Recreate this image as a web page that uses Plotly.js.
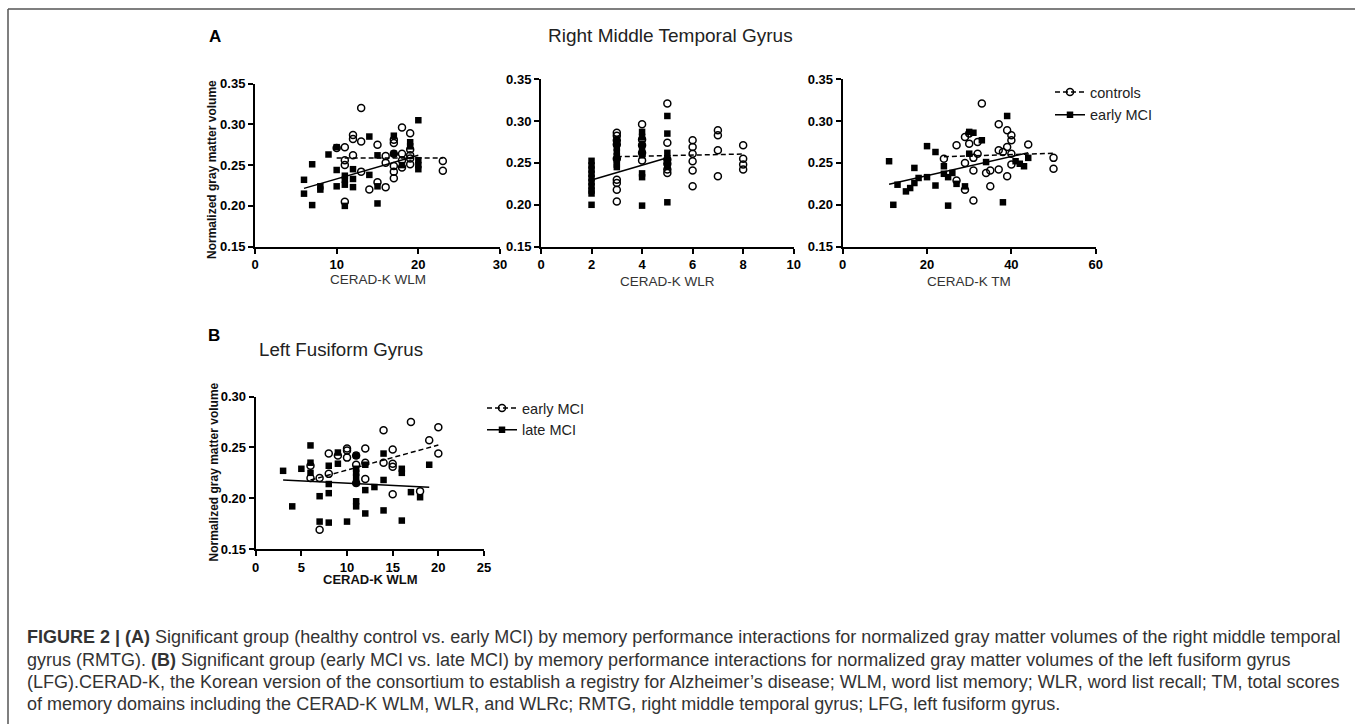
<!DOCTYPE html>
<html>
<head>
<meta charset="utf-8">
<script src="https://cdn.plot.ly/plotly-3.0.1.min.js"></script>
<style>
html,body{margin:0;padding:0;background:#fff;}
#chart{width:1355px;height:724px;}
</style>
</head>
<body>
<div id="chart"></div>
<script>
// ---------------- DATA ----------------
// Panel A1: CERAD-K WLM (controls vs early MCI)
const a1CtrlX = [13,12,12,13,11,12,11,11,11,13,14,15,15,16,16,16,17,17,17,17,17,17,18,18,18,18,19,19,19,19,19,23,23,10];
const a1CtrlY = [0.320,0.287,0.282,0.279,0.272,0.262,0.256,0.250,0.205,0.242,0.220,0.275,0.229,0.261,0.253,0.223,0.281,0.277,0.264,0.249,0.242,0.234,0.296,0.264,0.256,0.247,0.289,0.269,0.262,0.251,0.258,0.255,0.243,0.271];
const a1MciX = [6,6,7,7,8,8,9,10,10,10,11,11,11,11,12,12,12,14,14,15,15,15,17,17,18,19,19,20,20,20,20];
const a1MciY = [0.232,0.215,0.251,0.201,0.224,0.220,0.263,0.272,0.244,0.224,0.237,0.232,0.226,0.200,0.245,0.233,0.223,0.285,0.238,0.262,0.224,0.203,0.286,0.264,0.250,0.278,0.273,0.305,0.256,0.250,0.245];
const a1CtrlFitX = [10,23];
const a1CtrlFitY = [0.2587,0.2587];
const a1MciFitX = [6,20];
const a1MciFitY = [0.2215,0.2620];

// Panel A2: CERAD-K WLR
const a2CtrlX = [3,3,3,3,3,3,3,3,3,4,4,4,4,4,5,5,5,5,5,5,6,6,6,6,6,6,7,7,7,7,8,8,8,8];
const a2CtrlY = [0.286,0.2825,0.277,0.272,0.255,0.230,0.226,0.218,0.204,0.296,0.278,0.271,0.262,0.253,0.321,0.274,0.254,0.249,0.242,0.238,0.277,0.269,0.261,0.252,0.241,0.222,0.289,0.283,0.265,0.234,0.271,0.255,0.248,0.242];
const a2MciX = [2,2,2,2,2,2,2,2,2,2,3,3,3,3,3,3,3,3,4,4,4,4,4,4,4,4,4,5,5,5,5,5,5,5,5];
const a2MciY = [0.2525,0.247,0.242,0.237,0.232,0.227,0.222,0.217,0.2135,0.200,0.278,0.273,0.268,0.263,0.258,0.253,0.248,0.245,0.287,0.281,0.273,0.267,0.261,0.259,0.2375,0.233,0.199,0.306,0.285,0.262,0.2555,0.2515,0.2455,0.248,0.203];
const a2CtrlFitX = [3,8];
const a2CtrlFitY = [0.2574,0.2606];
const a2MciFitX = [2,5];
const a2MciFitY = [0.2296,0.2562];

// Panel A3: CERAD-K TM
const a3CtrlX = [33,24,27,27,29,29,29,30,30,31,31,31,32,32,34,35,35,37,37,37,38,39,39,39,40,40,40,40,44,50,50];
const a3CtrlY = [0.321,0.255,0.271,0.229,0.281,0.250,0.218,0.273,0.285,0.256,0.241,0.205,0.275,0.261,0.238,0.241,0.222,0.296,0.265,0.242,0.263,0.289,0.269,0.234,0.283,0.277,0.261,0.248,0.272,0.256,0.243];
const a3MciX = [11,12,13,15,16,17,17,18,20,20,22,22,24,24,25,25,26,27,29,30,30,31,33,34,38,39,41,42,43,44];
const a3MciY = [0.252,0.200,0.224,0.216,0.220,0.226,0.244,0.232,0.270,0.233,0.263,0.223,0.246,0.237,0.233,0.199,0.238,0.225,0.222,0.287,0.261,0.286,0.277,0.251,0.203,0.306,0.252,0.249,0.246,0.256];
const a3CtrlFitX = [24,50];
const a3CtrlFitY = [0.2574,0.2614];
const a3MciFitX = [11,44];
const a3MciFitY = [0.2244,0.2622];

// Panel B: CERAD-K WLM (early MCI vs late MCI)
const bEarlyX = [6,6,7,7,8,8,9,10,10,10,11,11,11,12,12,12,14,14,15,15,15,15,17,18,19,20,20];
const bEarlyY = [0.232,0.220,0.220,0.169,0.244,0.224,0.242,0.249,0.247,0.240,0.233,0.242,0.215,0.249,0.235,0.219,0.267,0.235,0.248,0.234,0.231,0.204,0.275,0.207,0.257,0.270,0.244];
const bLateX = [3,4,5,6,6,6,7,7,8,8,8,8,9,9,10,11,11,11,11,11,11,11,12,12,12,13,14,14,14,16,16,16,17,18,19];
const bLateY = [0.227,0.192,0.229,0.252,0.235,0.225,0.202,0.177,0.232,0.214,0.205,0.176,0.245,0.234,0.177,0.242,0.229,0.225,0.221,0.215,0.197,0.192,0.233,0.208,0.185,0.211,0.244,0.218,0.188,0.229,0.225,0.178,0.206,0.201,0.233];
const bEarlyFitX = [6,20];
const bEarlyFitY = [0.2179,0.2524];
const bLateFitX = [3,19];
const bLateFitY = [0.2179,0.2107];

// Tick labels
const yTicksA = [0.15,0.20,0.25,0.30,0.35];
const yTickTextA = ['0.15','0.20','0.25','0.30','0.35'];
const yTicksB = [0.15,0.20,0.25,0.30];
const yTickTextB = ['0.15','0.20','0.25','0.30'];
const xTicksA1 = [0,10,20,30];
const xTicksA2 = [0,2,4,6,8,10];
const xTicksA3 = [0,20,40,60];
const xTicksB = [0,5,10,15,20,25];

// Text
const legendA = ['controls','early MCI'];
const legendB = ['early MCI','late MCI'];
const captionLines = [
  '<b>FIGURE 2 | (A)</b> Significant group (healthy control vs. early MCI) by memory performance interactions for normalized gray matter volumes of the right middle temporal',
  'gyrus (RMTG). <b>(B)</b> Significant group (early MCI vs. late MCI) by memory performance interactions for normalized gray matter volumes of the left fusiform gyrus',
  '(LFG).CERAD-K, the Korean version of the consortium to establish a registry for Alzheimer\u2019s disease; WLM, word list memory; WLR, word list recall; TM, total scores',
  'of memory domains including the CERAD-K WLM, WLR, and WLRc; RMTG, right middle temporal gyrus; LFG, left fusiform gyrus.'
];

// ---------------- LAYOUT HELPERS ----------------
const W = 1355, H = 724;
const fx = p => p / W;
const fy = p => 1 - p / H;
const FONT = 'Liberation Sans, Arial, Helvetica, sans-serif';

const circleMarker = {symbol:'circle-open', size:7, color:'#000', line:{width:1.5, color:'#000'}};
const squareMarker = {symbol:'square', size:6.5, color:'#000', line:{width:0}};
const solidLine = {color:'#000', width:1.5};
const dashLine = {color:'#000', width:1.5, dash:'5px,3px'};

function pts(x, y, xa, ya, marker) {
  return {type:'scatter', mode:'markers', x:x, y:y, xaxis:xa, yaxis:ya, marker:marker,
          showlegend:false, cliponaxis:false, hoverinfo:'x+y'};
}
function fit(x, y, xa, ya, line) {
  return {type:'scatter', mode:'lines', x:x, y:y, xaxis:xa, yaxis:ya, line:line,
          showlegend:false, cliponaxis:false, hoverinfo:'skip'};
}
function legItem(name, marker, line, legend, group) {
  return {type:'scatter', mode:'lines+markers', x:[null], y:[null], name:name,
          marker:marker, line:line, legend:legend, legendgroup:group, showlegend:true,
          xaxis:'x', yaxis:'y'};
}

const traces = [
  pts(a1CtrlX, a1CtrlY, 'x', 'y', circleMarker),
  pts(a1MciX, a1MciY, 'x', 'y', squareMarker),
  fit(a1CtrlFitX, a1CtrlFitY, 'x', 'y', dashLine),
  fit(a1MciFitX, a1MciFitY, 'x', 'y', solidLine),

  pts(a2CtrlX, a2CtrlY, 'x2', 'y2', circleMarker),
  pts(a2MciX, a2MciY, 'x2', 'y2', squareMarker),
  fit(a2CtrlFitX, a2CtrlFitY, 'x2', 'y2', dashLine),
  fit(a2MciFitX, a2MciFitY, 'x2', 'y2', solidLine),

  pts(a3CtrlX, a3CtrlY, 'x3', 'y3', circleMarker),
  pts(a3MciX, a3MciY, 'x3', 'y3', squareMarker),
  fit(a3CtrlFitX, a3CtrlFitY, 'x3', 'y3', dashLine),
  fit(a3MciFitX, a3MciFitY, 'x3', 'y3', solidLine),

  pts(bEarlyX, bEarlyY, 'x4', 'y4', circleMarker),
  pts(bLateX, bLateY, 'x4', 'y4', squareMarker),
  fit(bEarlyFitX, bEarlyFitY, 'x4', 'y4', dashLine),
  fit(bLateFitX, bLateFitY, 'x4', 'y4', solidLine),

  legItem(legendA[0], circleMarker, dashLine, 'legend', 'a1'),
  legItem(legendA[1], squareMarker, solidLine, 'legend', 'a2'),
  legItem(legendB[0], circleMarker, dashLine, 'legend2', 'b1'),
  legItem(legendB[1], squareMarker, solidLine, 'legend2', 'b2')
];

const tickFont = {family:FONT, size:13, color:'#000', weight:'bold'};
function xAx(domain, range, ticks, anchor) {
  return {domain:domain, range:range, anchor:anchor, tickvals:ticks, ticktext:ticks.map(String),
          showline:true, linewidth:2, linecolor:'#000', ticks:'outside', ticklen:5, tickwidth:2,
          tickcolor:'#000', showgrid:false, zeroline:false, tickfont:tickFont, fixedrange:true};
}
function yAx(domain, range, ticks, text, anchor) {
  return {domain:domain, range:range, anchor:anchor, tickvals:ticks, ticktext:text,
          showline:true, linewidth:2, linecolor:'#000', ticks:'outside', ticklen:5, tickwidth:2,
          tickcolor:'#000', showgrid:false, zeroline:false, tickfont:tickFont, fixedrange:true};
}

function ann(text, x, y, opts) {
  return Object.assign({text:text, x:fx(x), y:fy(y), xref:'paper', yref:'paper', showarrow:false,
          xanchor:'center', yanchor:'middle', font:{family:FONT, size:13, color:'#222'}}, opts || {});
}

const annotations = [
  ann('<b>A</b>', 215, 37, {font:{family:FONT, size:17, color:'#000'}}),
  ann('Right Middle Temporal Gyrus', 670, 35, {font:{family:FONT, size:19, color:'#222'}}),
  ann('<b>Normalized gray matter volume</b>', 212, 170, {textangle:-90, font:{family:FONT, size:12, color:'#111'}}),
  ann('CERAD-K WLM', 377.5, 279, {font:{family:FONT, size:13.5, color:'#333'}}),
  ann('CERAD-K WLR', 667, 281, {font:{family:FONT, size:13.5, color:'#333'}}),
  ann('CERAD-K TM', 969, 281, {font:{family:FONT, size:13.5, color:'#333'}}),
  ann('<b>B</b>', 214, 336, {font:{family:FONT, size:17, color:'#000'}}),
  ann('Left Fusiform Gyrus', 341.5, 349, {font:{family:FONT, size:18.7, color:'#222'}}),
  ann('<b>Normalized gray matter volume</b>', 213, 472.5, {textangle:-90, font:{family:FONT, size:12, color:'#111'}}),
  ann('<b>CERAD-K WLM</b>', 370, 579, {font:{family:FONT, size:13, color:'#111'}})
];
const capY = [637, 659.5, 682, 704];
captionLines.forEach((t, i) => {
  annotations.push(ann(t, 25, capY[i], {xanchor:'left', font:{family:FONT, size:18, color:'#333'}}));
});

const layout = {
  width:W, height:H, margin:{l:0, r:0, t:0, b:0},
  paper_bgcolor:'#fff', plot_bgcolor:'rgba(0,0,0,0)',
  showlegend:true,
  xaxis: xAx([fx(255), fx(500)], [0,30], xTicksA1, 'y'),
  yaxis: yAx([fy(246.7), fy(83.5)], [0.15,0.35], yTicksA, yTickTextA, 'x'),
  xaxis2: xAx([fx(541), fx(793.7)], [0,10], xTicksA2, 'y2'),
  yaxis2: yAx([fy(246.7), fy(79.1)], [0.15,0.35], yTicksA, yTickTextA, 'x2'),
  xaxis3: xAx([fx(842.7), fx(1095.7)], [0,60], xTicksA3, 'y3'),
  yaxis3: yAx([fy(246.7), fy(79.1)], [0.15,0.35], yTicksA, yTickTextA, 'x3'),
  xaxis4: xAx([fx(255.7), fx(484)], [0,25], xTicksB, 'y4'),
  yaxis4: yAx([fy(549), fy(396.7)], [0.15,0.30], yTicksB, yTickTextB, 'x4'),
  legend: {x:fx(1050), y:fy(76), xanchor:'left', yanchor:'top', bgcolor:'rgba(0,0,0,0)',
           font:{family:FONT, size:14.5, color:'#222'}, traceorder:'grouped', tracegroupgap:1},
  legend2: {x:fx(482), y:fy(392), xanchor:'left', yanchor:'top', bgcolor:'rgba(0,0,0,0)',
           font:{family:FONT, size:14.5, color:'#222'}, traceorder:'grouped', tracegroupgap:0},
  annotations: annotations,
  shapes: [
    {type:'line', xref:'paper', yref:'paper', x0:fx(8), x1:1, y0:fy(9), y1:fy(9), line:{color:'#555', width:1.5}},
    {type:'line', xref:'paper', yref:'paper', x0:fx(8), x1:fx(8), y0:fy(9), y1:0, line:{color:'#555', width:1.5}}
  ]
};

Plotly.newPlot('chart', traces, layout, {displayModeBar:false, staticPlot:false, responsive:false});
</script>
</body>
</html>
